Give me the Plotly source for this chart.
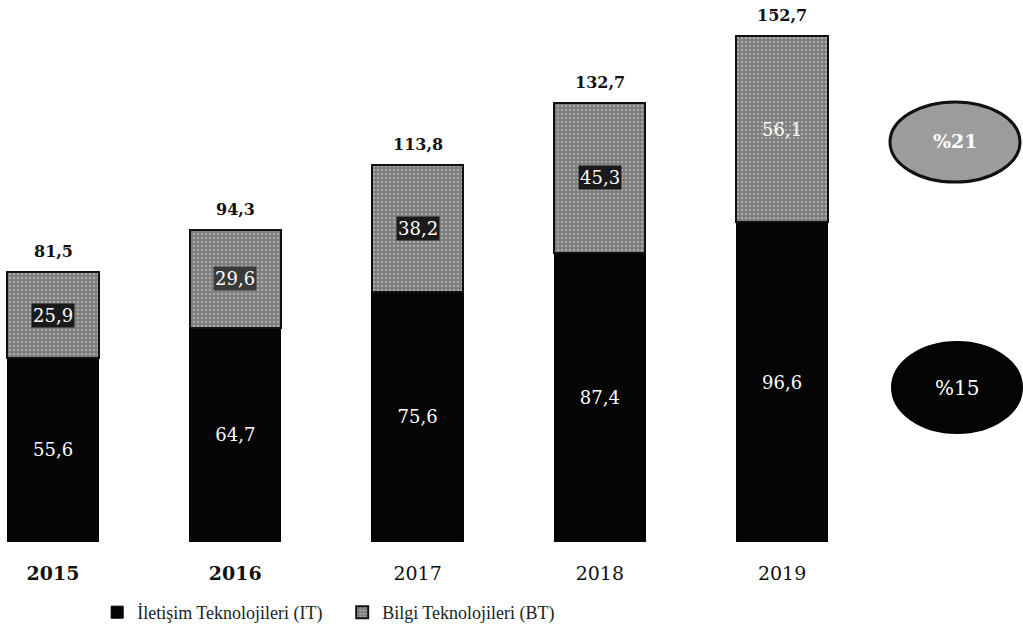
import plotly.graph_objects as go

years = ["2015", "2016", "2017", "2018", "2019"]
year_labels = ["<b>2015</b>", "<b>2016</b>", "2017", "2018", "2019"]
it_values = [55.6, 64.7, 75.6, 87.4, 96.6]
bt_values = [25.9, 29.6, 38.2, 45.3, 56.1]
totals = [81.5, 94.3, 113.8, 132.7, 152.7]
growth_labels = ["%21", "%15"]
it_name = "İletişim Teknolojileri (IT)"
bt_name = "Bilgi Teknolojileri (BT)"

def fmt(v):
    return f"{v:.1f}".replace(".", ",")

SERIF = "DejaVu Serif"
LEG_SERIF = "Liberation Serif"
xs = list(range(len(years)))

fig = go.Figure()
fig.add_trace(go.Bar(
    x=xs, y=it_values, name=it_name, width=0.5,
    marker=dict(color="#050505", line=dict(color="#000000", width=1)),
    text=[fmt(v) for v in it_values], textposition="inside",
    insidetextanchor="middle",
    textfont=dict(family=SERIF, size=18, color="white"),
))
fig.add_trace(go.Bar(
    x=xs, y=bt_values, name=bt_name, width=0.5,
    marker=dict(color="#8a8a8a",
                pattern=dict(shape=".", fgcolor="#d8d8d8", bgcolor="#7c7c7c", size=4, solidity=0.35),
                line=dict(color="#111111", width=2)),
    hoverinfo="y",
))

# BT labels with dark boxes
bt_bg = ["#1a1a1a", "#3a3a3a", "#1a1a1a", "#1a1a1a", "rgba(0,0,0,0)"]
for i, (it, bt) in enumerate(zip(it_values, bt_values)):
    fig.add_annotation(x=i, y=it + bt / 2, text=fmt(bt), showarrow=False,
                       font=dict(family=SERIF, size=18, color="white"),
                       bgcolor=bt_bg[i], borderpad=1)

for i, t in enumerate(totals):
    fig.add_annotation(x=i, y=t, text=f"<b>{fmt(t)}</b>", showarrow=False,
                       yanchor="bottom", yshift=9,
                       font=dict(family=SERIF, size=16, color="#111111"))

# growth ellipses
fig.add_shape(type="circle", xref="paper", yref="paper",
              x0=890/1023, x1=1020/1023, y0=0.664, y1=0.812,
              fillcolor="#9c9c9c", line=dict(color="#111111", width=3))
fig.add_shape(type="circle", xref="paper", yref="paper",
              x0=892/1023, x1=1022/1023, y0=0.201, y1=0.369,
              fillcolor="#050505", line=dict(color="#000000", width=2))
fig.add_annotation(xref="paper", yref="paper", x=955/1023, y=0.74,
                   xanchor="center", yanchor="middle",
                   text="<b>" + growth_labels[0] + "</b>", showarrow=False,
                   font=dict(family=SERIF, size=19, color="white"))
fig.add_annotation(xref="paper", yref="paper", x=957/1023, y=0.285,
                   xanchor="center", yanchor="middle",
                   text=growth_labels[1], showarrow=False,
                   font=dict(family=SERIF, size=20, color="white"))

fig.update_layout(
    barmode="stack",
    width=1023, height=635,
    margin=dict(l=0, r=0, t=0, b=93),
    paper_bgcolor="white", plot_bgcolor="white",
    font=dict(family=SERIF, color="#111111"),
    showlegend=True,
    legend=dict(orientation="h", x=0.095, xanchor="left", y=-0.13, yanchor="middle",
                font=dict(family=LEG_SERIF, size=18, color="#222222"),
                itemwidth=30, traceorder="normal",
                entrywidth=200, entrywidthmode="pixels"),
    xaxis=dict(range=[-0.291, 5.322], tickvals=xs, ticktext=year_labels,
               showgrid=False, zeroline=False, showline=False,
               ticks="", ticklabelstandoff=18,
               tickfont=dict(family=SERIF, size=19, color="#111111")),
    yaxis=dict(range=[0, 163.7], visible=False, showgrid=False, zeroline=False),
)

fig.write_html("out.html", config={"displayModeBar": False},
               post_script="document.body.style.margin='0';")
